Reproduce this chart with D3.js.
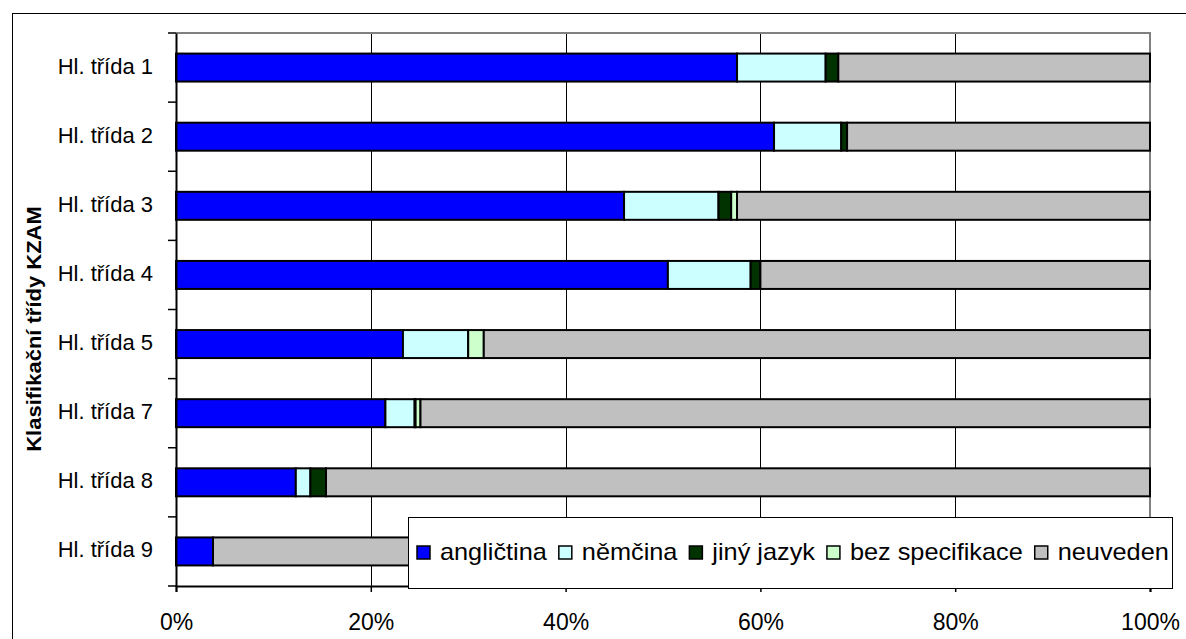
<!DOCTYPE html>
<html>
<head>
<meta charset="utf-8">
<script src="https://cdn.jsdelivr.net/npm/d3@7"></script>
<style>
  html, body { margin: 0; padding: 0; background: #fff; }
  svg { display: block; font-family: "Liberation Sans", Arial, sans-serif; }
</style>
</head>
<body>
<svg id="chart" width="1186" height="639"></svg>
<script>
// Share of language requirements by KZAM main class (percent of each class)
const categories = ["Hl. třída 1", "Hl. třída 2", "Hl. třída 3", "Hl. třída 4",
                    "Hl. třída 5", "Hl. třída 7", "Hl. třída 8", "Hl. třída 9"];
const seriesNames = ["angličtina", "němčina", "jiný jazyk", "bez specifikace", "neuveden"];
const anglictina     = [57.6, 61.4, 46.0, 50.5, 23.3, 21.5, 12.3, 3.8];
const nemcina        = [ 9.1,  6.9,  9.7,  8.5,  6.7,  3.0,  1.5, 0.0];
const jinyJazyk      = [ 1.3,  0.6,  1.3,  1.0,  0.0,  0.1,  1.6, 0.0];
const bezSpecifikace = [ 0.0,  0.0,  0.6,  0.0,  1.6,  0.5,  0.0, 0.0];
const neuveden       = [32.0, 31.1, 42.4, 40.0, 68.4, 74.9, 84.6, 96.2];
const tickValues = [0, 20, 40, 60, 80, 100];
const tickLabels = ["0%", "20%", "40%", "60%", "80%", "100%"];
const axisTitle = "Klasifikační třídy KZAM";
const colors = ["#0000FF", "#CCFFFF", "#003300", "#CCFFCC", "#C0C0C0"];

const seriesValues = [anglictina, nemcina, jinyJazyk, bezSpecifikace, neuveden];
const rows = categories.map((c, i) => {
  const r = { cat: c };
  seriesNames.forEach((s, k) => r[s] = seriesValues[k][i]);
  return r;
});

const svg = d3.select("#chart");
const plot = { left: 176, right: 1150, top: 33, bottom: 586 };

// chart frame
svg.append("rect")
  .attr("x", 12.5).attr("y", 13.5).attr("width", 1300).attr("height", 800)
  .attr("fill", "#fff").attr("stroke", "#000").attr("stroke-width", 1);

const x = d3.scaleLinear().domain([0, 100]).range([plot.left, plot.right]);
const y = d3.scaleBand().domain(categories).range([plot.top, plot.bottom])
  .paddingInner(0.595).paddingOuter(0.2975);

// vertical gridlines
svg.append("g").selectAll("line")
  .data(tickValues.filter(v => v > 0 && v < 100))
  .join("line")
  .attr("x1", d => Math.round(x(d)) + 0.5).attr("x2", d => Math.round(x(d)) + 0.5)
  .attr("y1", plot.top).attr("y2", plot.bottom)
  .attr("stroke", "#000").attr("stroke-width", 1);

// plot border (top and right)
svg.append("path")
  .attr("d", `M${plot.left},${plot.top}H${plot.right}V${plot.bottom}`)
  .attr("fill", "none").attr("stroke", "#808080").attr("stroke-width", 2);

// stacked bars
const stack = d3.stack().keys(seriesNames);
const layers = stack(rows);
svg.append("g").selectAll("g")
  .data(layers)
  .join("g")
  .attr("fill", (d, i) => colors[i])
  .selectAll("rect")
  .data(d => d.filter(p => p[1] - p[0] > 0))
  .join("rect")
  .attr("x", d => x(d[0]))
  .attr("width", d => x(d[1]) - x(d[0]))
  .attr("y", d => y(d.data.cat))
  .attr("height", y.bandwidth())
  .attr("stroke", "#000").attr("stroke-width", 2);

// category axis
const yAxis = d3.axisLeft(y).tickSize(0).tickFormat("");
const yg = svg.append("g").attr("transform", `translate(${plot.left},0)`).call(yAxis);
yg.select(".domain").attr("stroke", "#000").attr("stroke-width", 2);
svg.append("g").selectAll("line")
  .data(d3.range(categories.length + 1))
  .join("line")
  .attr("x1", plot.left - 8).attr("x2", plot.left)
  .attr("y1", i => plot.top + i * (plot.bottom - plot.top) / categories.length)
  .attr("y2", i => plot.top + i * (plot.bottom - plot.top) / categories.length)
  .attr("stroke", "#000").attr("stroke-width", 1.5);

svg.append("g").selectAll("text")
  .data(categories)
  .join("text")
  .attr("x", 153)
  .attr("y", d => y(d) + y.bandwidth() / 2 + 6)
  .attr("text-anchor", "end")
  .attr("font-size", 22)
  .attr("fill", "#000")
  .text(d => d);

// value axis
const xAxis = d3.axisBottom(x).tickValues(tickValues).tickSize(6)
  .tickFormat((d, i) => tickLabels[i]);
const xg = svg.append("g").attr("transform", `translate(0,${plot.bottom})`).call(xAxis);
xg.select(".domain").attr("stroke", "#000").attr("stroke-width", 2);
xg.selectAll(".tick line").attr("stroke", "#000").attr("stroke-width", 1.5);
xg.selectAll(".tick text")
  .attr("font-size", 23).attr("fill", "#000").attr("font-family", "Liberation Sans, Arial, sans-serif")
  .attr("dy", null).attr("y", 44);

// axis title (slightly widened lettering)
svg.append("text")
  .attr("transform", "translate(41,329) rotate(-90) scale(1.1,1)")
  .attr("text-anchor", "middle")
  .attr("font-size", 20).attr("font-weight", "bold")
  .text(axisTitle);

// legend
const legend = svg.append("g");
legend.append("rect")
  .attr("x", 408.5).attr("y", 517.5).attr("width", 764).attr("height", 71)
  .attr("fill", "#fff").attr("stroke", "#000").attr("stroke-width", 1);
const stretch = 1.10;
let cursor = 417;
seriesNames.forEach((name, i) => {
  const item = legend.append("g").attr("transform", `translate(${cursor},546)`);
  item.append("rect").attr("width", 13).attr("height", 13)
    .attr("fill", colors[i]).attr("stroke", "#000").attr("stroke-width", 1.5);
  const t = item.append("text")
    .attr("transform", `translate(23,14) scale(${stretch},1)`)
    .attr("font-size", 23).attr("fill", "#000")
    .text(name);
  const w = t.node().getComputedTextLength() * stretch;
  cursor += 23 + w + 12;
});
</script>
</body>
</html>
